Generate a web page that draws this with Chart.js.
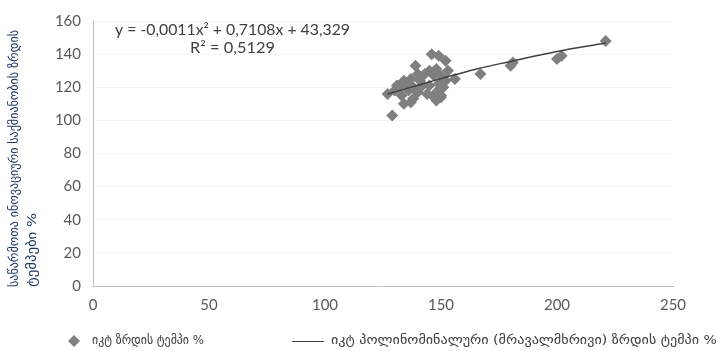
<!DOCTYPE html>
<html>
<head>
  <title>ICT growth scatter</title>
  <script src="https://cdn.jsdelivr.net/npm/chart.js"></script>
  <style>
    html, body { margin: 0; padding: 0; background: #fff; }
    #wrap { width: 721px; height: 351px; }
  </style>
</head>
<body>
  <div id="wrap">
    <canvas id="growthChart" width="721" height="351"></canvas>
  </div>

  <script>
    // ICT growth rate (x) vs enterprise innovation growth rate (y)
    const ictGrowth = [129, 127, 134, 137, 139, 146, 149, 152, 156, 167, 180, 181, 200, 202, 221,
      130, 132, 133, 135, 136, 137, 138, 140, 141, 142, 143, 144, 145, 147, 148,
      149, 150, 151, 152, 153, 148, 145, 140, 138, 150, 147, 148, 150, 131, 134];
    const innovGrowth = [103, 116, 110, 111, 133, 140, 139, 136, 125, 128, 133, 135, 137, 139, 148,
      118, 120, 115, 122, 118, 125, 120, 117, 124, 121, 128, 116, 121, 114, 117,
      122, 127, 120, 124, 130, 131, 130, 128, 113, 115, 127, 112, 114, 121, 124];

    // trend curve
    const trendX = [127, 140, 150, 165, 180, 200, 221];
    const trendY = [115.9, 121.2, 125.2, 130.9, 135.6, 141.6, 146.7];

    const yTicks = [0, 20, 40, 60, 80, 100, 120, 140, 160];
    const xTicks = [0, 50, 100, 150, 200, 250];

    const seriesName = 'იკტ ზრდის ტემპი %';
    const trendName = 'იკტ პოლინომინალური (მრავალმხრივი) ზრდის ტემპი %';
    const yTitle = ['საწარმოთა ინოვაციური საქმიანობის ზრდის', 'ტემპები %'];
    const equation = ['y = -0,0011x² + 0,7108x + 43,329', 'R² = 0,5129'];

    const markerColor = '#7f7f7f';
    const trendColor = '#404040';

    // draw text squeezed/stretched to a given width
    function fitText(ctx, text, x, y, width) {
      const w = ctx.measureText(text).width;
      ctx.save();
      ctx.translate(x, y);
      ctx.scale(width / w, 1);
      ctx.fillText(text, 0, 0);
      ctx.restore();
    }

    const extras = {
      id: 'extras',
      afterDraw(chart) {
        const ctx = chart.ctx;
        ctx.save();
        ctx.textBaseline = 'middle';

        // equation
        ctx.fillStyle = '#404040';
        ctx.font = '15px Lato';
        ctx.textAlign = 'left';
        fitText(ctx, equation[0], 115, 30, 235);
        fitText(ctx, equation[1], 190, 48, 85);

        // y axis title, rotated, starting from the bottom
        ctx.fillStyle = '#1f3864';
        ctx.font = '13px "DejaVu Sans"';
        ctx.save();
        ctx.translate(15, 287);
        ctx.rotate(-Math.PI / 2);
        fitText(ctx, yTitle[0], 0, 0, 257);
        fitText(ctx, yTitle[1], 0, 18, 74);
        ctx.restore();

        // legend
        ctx.fillStyle = markerColor;
        ctx.beginPath();
        ctx.moveTo(74, 335); ctx.lineTo(80, 341); ctx.lineTo(74, 347); ctx.lineTo(68, 341);
        ctx.closePath();
        ctx.fill();
        ctx.strokeStyle = trendColor;
        ctx.lineWidth = 1;
        ctx.beginPath();
        ctx.moveTo(292, 341.5); ctx.lineTo(324, 341.5);
        ctx.stroke();
        ctx.fillStyle = '#404040';
        ctx.font = '12px "DejaVu Sans"';
        fitText(ctx, seriesName, 92, 341, 112);
        fitText(ctx, trendName, 331, 341, 386);
        ctx.restore();
      }
    };

    new Chart(document.getElementById('growthChart'), {
      type: 'scatter',
      data: {
        datasets: [{
          label: seriesName,
          data: ictGrowth.map((x, i) => ({ x: x, y: innovGrowth[i] })),
          pointStyle: 'rectRot',
          pointRadius: 6,
          backgroundColor: markerColor,
          borderColor: markerColor,
          borderWidth: 0,
          order: 2
        }, {
          type: 'line',
          label: trendName,
          data: trendX.map((x, i) => ({ x: x, y: trendY[i] })),
          borderColor: trendColor,
          borderWidth: 1.5,
          pointRadius: 0,
          tension: 0.4,
          fill: false,
          order: 1
        }]
      },
      options: {
        responsive: false,
        animation: false,
        layout: { padding: { top: 17, right: 48, left: 0, bottom: 0 } },
        plugins: {
          legend: { display: false },
          tooltip: { enabled: false }
        },
        scales: {
          x: {
            type: 'linear',
            min: 0,
            max: 250,
            afterBuildTicks: s => { s.ticks = xTicks.map(v => ({ value: v })); },
            afterFit: s => { s.height = 65; },
            grid: { display: false, drawTicks: false },
            border: { color: '#bfbfbf', width: 1 },
            ticks: { color: '#595959', font: { family: 'Lato', size: 15 }, padding: 10, maxRotation: 0 }
          },
          y: {
            min: 0,
            max: 160,
            afterBuildTicks: s => { s.ticks = yTicks.map(v => ({ value: v })); },
            afterFit: s => { s.width = 93; },
            grid: { color: '#f4f4f4', drawTicks: false },
            border: { color: '#bfbfbf', width: 1 },
            ticks: { color: '#595959', font: { family: 'Lato', size: 15 }, padding: 12 }
          }
        }
      },
      plugins: [extras]
    });
  </script>
</body>
</html>
